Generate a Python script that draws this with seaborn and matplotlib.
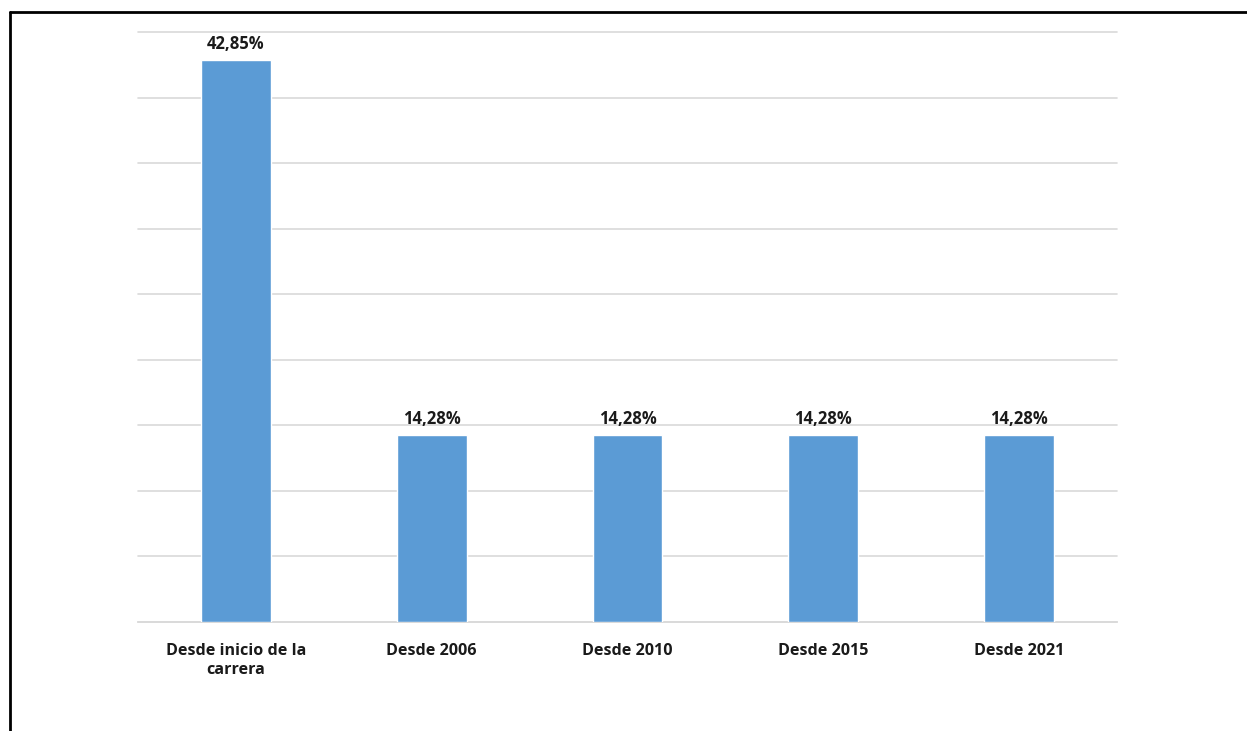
import matplotlib
matplotlib.use("Agg")
import matplotlib.pyplot as plt
import seaborn as sns
import pandas as pd
from matplotlib.lines import Line2D

categories = ["Desde inicio de la\ncarrera", "Desde 2006", "Desde 2010", "Desde 2015", "Desde 2021"]
values = [42.85, 14.28, 14.28, 14.28, 14.28]
labels = ["42,85%", "14,28%", "14,28%", "14,28%", "14,28%"]

sns.set_theme(style="white")
plt.rcParams['font.family'] = ['Open Sans', 'DejaVu Sans']

df = pd.DataFrame({"cat": categories, "val": values})

fig = plt.figure(figsize=(12.47, 7.31), dpi=100)
ax = fig.add_axes([138/1247, 1 - 622/731, (1117-138)/1247, (622-32)/731])

sns.barplot(data=df, x="cat", y="val", color="#5B9BD5", saturation=1, width=0.357, ax=ax, zorder=3)

ax.set_ylim(0, 45)
ax.set_yticks(range(0, 46, 5))
ax.yaxis.grid(True, color="#D9D9D9", linewidth=1.2, zorder=0)
for gl in ax.get_ygridlines():
    gl.set_clip_on(False)
ax.set_axisbelow(True)
ax.tick_params(axis="y", left=False, labelleft=False)
ax.tick_params(axis="x", bottom=False, pad=9)
for s in ["top", "right", "left"]:
    ax.spines[s].set_visible(False)
ax.spines["bottom"].set_color("#D9D9D9")
ax.spines["bottom"].set_linewidth(1.2)
ax.set_xlabel("")
ax.set_ylabel("")
for t in ax.get_xticklabels():
    t.set_fontweight("bold")
    t.set_fontsize(11.6)
    t.set_color("#1a1a1a")
    t.set_linespacing(1.3)

ax.bar_label(ax.containers[0], labels=labels, padding=5, fontweight="bold", fontsize=12, color="#1a1a1a")

# outer border (top and left)
fig.add_artist(Line2D([10/1247, 1], [1 - 12/731, 1 - 12/731], color="black", linewidth=2, transform=fig.transFigure))
fig.add_artist(Line2D([10/1247, 10/1247], [0, 1 - 12/731], color="black", linewidth=2, transform=fig.transFigure))

fig.savefig("out.png", dpi=100)
